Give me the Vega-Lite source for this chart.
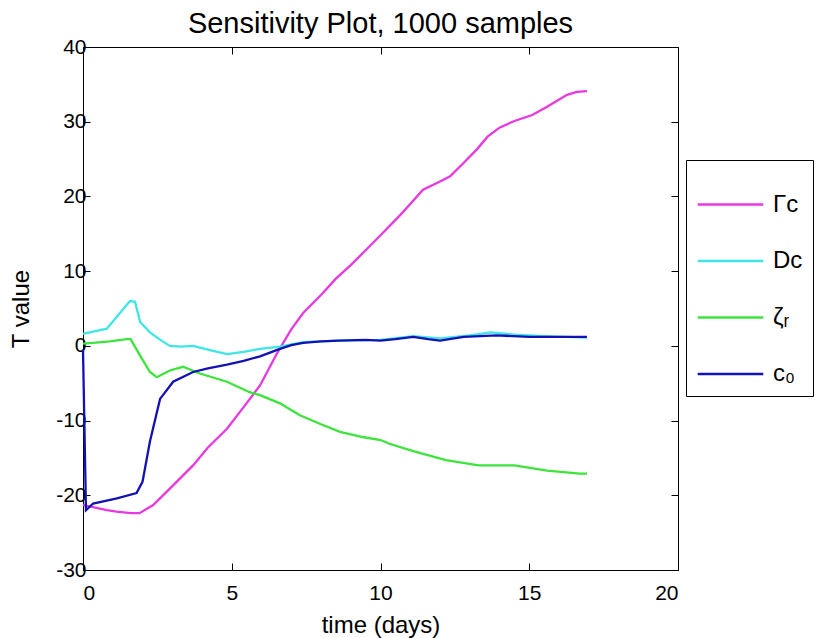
{
  "$schema": "https://vega.github.io/schema/vega-lite/v6.json",
  "width": 595,
  "height": 523,
  "autosize": {"type": "none"},
  "padding": {"left": 83, "top": 47, "right": 150, "bottom": 68},
  "background": "white",
  "title": {"text": "Sensitivity Plot, 1000 samples", "font": "Liberation Sans", "fontSize": 29, "fontWeight": "normal", "color": "black", "offset": -3},
  "config": {
    "view": {"stroke": "black", "strokeWidth": 1},
    "axis": {"grid": false, "domain": false, "tickColor": "black", "tickSize": -7, "labelFont": "Liberation Sans", "labelFontSize": 21, "labelColor": "black", "titleFont": "Liberation Sans", "titleFontSize": 24, "titleFontWeight": "normal", "titleColor": "black"}
  },
  "data": {"values": [
    {"s": "Γc", "t": 0, "v": -21.3}, {"s": "Γc", "t": 0.34, "v": -21.6}, {"s": "Γc", "t": 0.8, "v": -22.0}, {"s": "Γc", "t": 1.13, "v": -22.2}, {"s": "Γc", "t": 1.6, "v": -22.4}, {"s": "Γc", "t": 1.9, "v": -22.4}, {"s": "Γc", "t": 2.36, "v": -21.3}, {"s": "Γc", "t": 2.92, "v": -19.1}, {"s": "Γc", "t": 3.7, "v": -16.0}, {"s": "Γc", "t": 4.2, "v": -13.6}, {"s": "Γc", "t": 4.84, "v": -11.1}, {"s": "Γc", "t": 5.4, "v": -8.2}, {"s": "Γc", "t": 5.95, "v": -5.3}, {"s": "Γc", "t": 6.55, "v": -0.8}, {"s": "Γc", "t": 7.0, "v": 2.2}, {"s": "Γc", "t": 7.4, "v": 4.4}, {"s": "Γc", "t": 8.0, "v": 6.8}, {"s": "Γc", "t": 8.5, "v": 9.0}, {"s": "Γc", "t": 9.0, "v": 10.8}, {"s": "Γc", "t": 9.55, "v": 13.0}, {"s": "Γc", "t": 10.0, "v": 14.8}, {"s": "Γc", "t": 10.66, "v": 17.5}, {"s": "Γc", "t": 11.0, "v": 19.0}, {"s": "Γc", "t": 11.43, "v": 20.9}, {"s": "Γc", "t": 12.0, "v": 22.0}, {"s": "Γc", "t": 12.34, "v": 22.7}, {"s": "Γc", "t": 12.8, "v": 24.5}, {"s": "Γc", "t": 13.24, "v": 26.3}, {"s": "Γc", "t": 13.6, "v": 28.0}, {"s": "Γc", "t": 14.0, "v": 29.2}, {"s": "Γc", "t": 14.5, "v": 30.1}, {"s": "Γc", "t": 15.1, "v": 30.9}, {"s": "Γc", "t": 15.6, "v": 32.0}, {"s": "Γc", "t": 16.27, "v": 33.6}, {"s": "Γc", "t": 16.6, "v": 34.0}, {"s": "Γc", "t": 16.94, "v": 34.1},
    {"s": "Dc", "t": 0, "v": 1.6}, {"s": "Dc", "t": 0.34, "v": 1.9}, {"s": "Dc", "t": 0.8, "v": 2.3}, {"s": "Dc", "t": 1.2, "v": 4.2}, {"s": "Dc", "t": 1.58, "v": 6.0}, {"s": "Dc", "t": 1.75, "v": 5.9}, {"s": "Dc", "t": 1.92, "v": 3.2}, {"s": "Dc", "t": 2.25, "v": 1.8}, {"s": "Dc", "t": 2.6, "v": 0.8}, {"s": "Dc", "t": 2.92, "v": 0.0}, {"s": "Dc", "t": 3.3, "v": -0.1}, {"s": "Dc", "t": 3.7, "v": 0.0}, {"s": "Dc", "t": 4.3, "v": -0.6}, {"s": "Dc", "t": 4.84, "v": -1.1}, {"s": "Dc", "t": 5.4, "v": -0.8}, {"s": "Dc", "t": 5.95, "v": -0.4}, {"s": "Dc", "t": 6.62, "v": -0.1}, {"s": "Dc", "t": 7.4, "v": 0.5}, {"s": "Dc", "t": 8.6, "v": 0.7}, {"s": "Dc", "t": 10.0, "v": 0.8}, {"s": "Dc", "t": 11.1, "v": 1.3}, {"s": "Dc", "t": 12.0, "v": 1.0}, {"s": "Dc", "t": 13.0, "v": 1.4}, {"s": "Dc", "t": 13.7, "v": 1.8}, {"s": "Dc", "t": 14.5, "v": 1.5}, {"s": "Dc", "t": 15.5, "v": 1.3}, {"s": "Dc", "t": 16.94, "v": 1.1},
    {"s": "ζᵣ", "t": 0, "v": 0.3}, {"s": "ζᵣ", "t": 0.34, "v": 0.4}, {"s": "ζᵣ", "t": 0.9, "v": 0.6}, {"s": "ζᵣ", "t": 1.47, "v": 0.9}, {"s": "ζᵣ", "t": 1.6, "v": 0.9}, {"s": "ζᵣ", "t": 1.92, "v": -1.3}, {"s": "ζᵣ", "t": 2.25, "v": -3.5}, {"s": "ζᵣ", "t": 2.48, "v": -4.2}, {"s": "ζᵣ", "t": 2.92, "v": -3.3}, {"s": "ζᵣ", "t": 3.36, "v": -2.8}, {"s": "ζᵣ", "t": 3.93, "v": -3.7}, {"s": "ζᵣ", "t": 4.84, "v": -4.8}, {"s": "ζᵣ", "t": 5.6, "v": -6.2}, {"s": "ζᵣ", "t": 5.95, "v": -6.6}, {"s": "ζᵣ", "t": 6.62, "v": -7.7}, {"s": "ζᵣ", "t": 7.29, "v": -9.3}, {"s": "ζᵣ", "t": 8.0, "v": -10.5}, {"s": "ζᵣ", "t": 8.64, "v": -11.5}, {"s": "ζᵣ", "t": 9.4, "v": -12.2}, {"s": "ζᵣ", "t": 10.0, "v": -12.6}, {"s": "ζᵣ", "t": 10.3, "v": -13.1}, {"s": "ζᵣ", "t": 11.1, "v": -14.1}, {"s": "ζᵣ", "t": 12.2, "v": -15.3}, {"s": "ζᵣ", "t": 13.3, "v": -16.0}, {"s": "ζᵣ", "t": 14.5, "v": -16.0}, {"s": "ζᵣ", "t": 15.6, "v": -16.7}, {"s": "ζᵣ", "t": 16.7, "v": -17.1}, {"s": "ζᵣ", "t": 16.94, "v": -17.1},
    {"s": "c₀", "t": 0, "v": -0.5}, {"s": "c₀", "t": 0.1, "v": -22.0}, {"s": "c₀", "t": 0.34, "v": -21.1}, {"s": "c₀", "t": 1.14, "v": -20.4}, {"s": "c₀", "t": 1.8, "v": -19.7}, {"s": "c₀", "t": 2.0, "v": -18.2}, {"s": "c₀", "t": 2.25, "v": -12.8}, {"s": "c₀", "t": 2.59, "v": -7.1}, {"s": "c₀", "t": 3.03, "v": -4.8}, {"s": "c₀", "t": 3.7, "v": -3.5}, {"s": "c₀", "t": 4.2, "v": -3.0}, {"s": "c₀", "t": 4.84, "v": -2.5}, {"s": "c₀", "t": 5.4, "v": -2.0}, {"s": "c₀", "t": 5.95, "v": -1.4}, {"s": "c₀", "t": 6.55, "v": -0.5}, {"s": "c₀", "t": 7.0, "v": 0.1}, {"s": "c₀", "t": 7.4, "v": 0.4}, {"s": "c₀", "t": 8.0, "v": 0.6}, {"s": "c₀", "t": 8.6, "v": 0.7}, {"s": "c₀", "t": 9.5, "v": 0.8}, {"s": "c₀", "t": 10.0, "v": 0.7}, {"s": "c₀", "t": 10.5, "v": 0.9}, {"s": "c₀", "t": 11.1, "v": 1.2}, {"s": "c₀", "t": 11.6, "v": 0.9}, {"s": "c₀", "t": 12.0, "v": 0.7}, {"s": "c₀", "t": 12.8, "v": 1.2}, {"s": "c₀", "t": 13.9, "v": 1.4}, {"s": "c₀", "t": 15.0, "v": 1.2}, {"s": "c₀", "t": 16.0, "v": 1.2}, {"s": "c₀", "t": 16.94, "v": 1.2}
  ]},
  "layer": [
    {
      "mark": {"type": "line", "strokeWidth": 2.3},
      "encoding": {
        "x": {"field": "t", "type": "quantitative", "scale": {"domain": [0, 20], "nice": false}, "axis": {"values": [0, 5, 10, 15, 20], "title": "time (days)", "labelPadding": 19, "titlePadding": 10}},
        "y": {"field": "v", "type": "quantitative", "scale": {"domain": [-30, 40], "nice": false}, "axis": {"values": [-30, -20, -10, 0, 10, 20, 30, 40], "labelExpr": "datum.value + ''", "title": "T value", "labelPadding": 4, "titlePadding": 22}},
        "color": {"field": "s", "type": "nominal", "scale": {"domain": ["Γc", "Dc", "ζᵣ", "c₀"], "range": ["#e838e0", "#3ee6e8", "#3ce43c", "#1212b4"]},
          "legend": {"orient": "none", "legendX": 603, "legendY": 113, "title": null, "symbolType": "stroke", "symbolSize": 4300, "symbolStrokeWidth": 2.5, "labelFont": "Liberation Sans", "labelFontSize": 24, "labelColor": "black", "labelOffset": 8, "strokeColor": "black", "fillColor": "white", "padding": 10, "rowPadding": 9.5}}
      }
    },
    {
      "mark": {"type": "line", "opacity": 0},
      "encoding": {
        "x": {"field": "t", "type": "quantitative", "scale": {"domain": [0, 20], "nice": false}, "axis": {"orient": "top", "values": [0, 5, 10, 15, 20], "labels": false, "title": null}},
        "y": {"field": "v", "type": "quantitative", "scale": {"domain": [-30, 40], "nice": false}, "axis": {"orient": "right", "values": [-30, -20, -10, 0, 10, 20, 30, 40], "labels": false, "title": null}}
      }
    }
  ],
  "resolve": {"axis": {"x": "independent", "y": "independent"}}
}
